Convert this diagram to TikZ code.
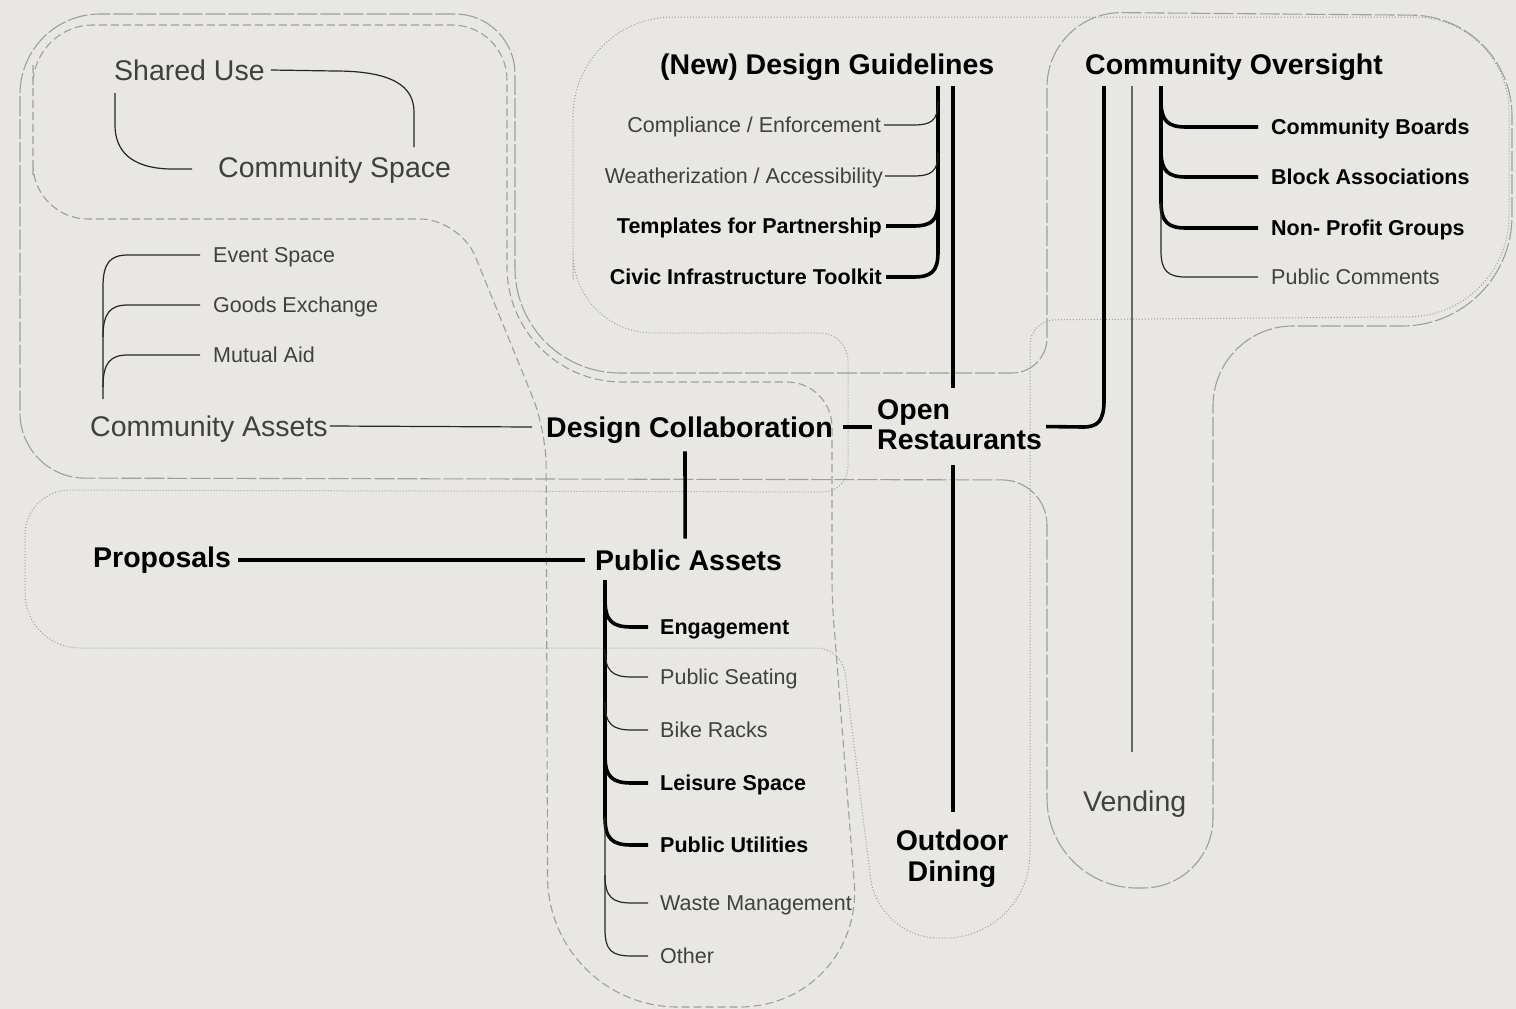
\documentclass[tikz,border=0pt]{standalone}
\usepackage{fontspec}
\setmainfont{Liberation Sans}
\usetikzlibrary{positioning}

\definecolor{paper}{RGB}{232,231,227}
\definecolor{inkgrey}{RGB}{64,64,64}
\definecolor{zonegrey}{RGB}{158,158,158}
\definecolor{stemgrey}{RGB}{105,105,105}

\tikzset{
  big/.style={font=\fontsize{28.5}{30.5}\selectfont, text=inkgrey, inner sep=0pt, text height=20.4pt, text depth=0pt},
  head/.style={font=\fontsize{28.5}{30.5}\selectfont\bfseries, text=black, inner sep=0pt, text height=20.4pt, text depth=0pt},
  headml/.style={font=\fontsize{28.5}{30.5}\selectfont\bfseries, text=black, inner sep=0pt},
  leaf/.style={font=\fontsize{21.5}{24}\selectfont, text=inkgrey, inner sep=0pt, text height=15.4pt, text depth=0pt},
  leafb/.style={leaf, font=\fontsize{21.5}{24}\selectfont\bfseries, text=black},
  thinlink/.style={line width=1.2pt, draw=black!85},
  thicklink/.style={line width=3.6pt, draw=black},
  zoneA/.style={draw=zonegrey, line width=1.1pt, dash pattern=on 20pt off 3pt},
  zoneB/.style={draw=zonegrey, line width=1.1pt, dash pattern=on 8pt off 4pt},
  zoneC/.style={draw=zonegrey, line width=1pt, dash pattern=on 1pt off 2pt}
}

\begin{document}
\begin{tikzpicture}[x=1pt, y=-1pt]
\fill[paper] (0,0) rectangle (1516,1009);
\useasboundingbox (0,0) rectangle (1516,1009);

% zones
\draw[zoneA] (20,250) [rounded corners=80pt] -- (20,14) [rounded corners=60pt] -- (515,14)
  [rounded corners=105pt] -- (515,373) [rounded corners=35pt] -- (1047,373)
  [rounded corners=75pt] -- (1047,12) [rounded corners=100pt] -- (1512,16)
  [rounded corners=110pt] -- (1512,326) [rounded corners=80pt] -- (1213,326)
  [rounded corners=70pt] -- (1213,888) [rounded corners=90pt] -- (1047,888)
  [rounded corners=45pt] -- (1047,480) [rounded corners=65pt] -- (20,478) -- cycle;

\draw[zoneB] (33,120) [rounded corners=60pt] -- (33,25) [rounded corners=55pt] -- (507,25)
  [rounded corners=115pt] -- (507,382) [rounded corners=45pt] -- (832,382)
  [rounded corners=20pt] -- (832,600) [rounded corners=125pt] -- (864,1007)
  [rounded corners=130pt] -- (548,1007) [rounded corners=35pt] -- (546,430)
  [rounded corners=40pt] -- (460,219) [rounded corners=55pt] -- (33,219) -- cycle;

\draw[zoneC] (573,200) [rounded corners=100pt] -- (573,17) [rounded corners=95pt] -- (1509,17)
  [rounded corners=100pt] -- (1509,316) [rounded corners=25pt] -- (1030,320)
  [rounded corners=85pt] -- (1030,938) [rounded corners=60pt] -- (878,938)
  [rounded corners=25pt] -- (842,648) [rounded corners=55pt] -- (25,648)
  [rounded corners=45pt] -- (25,490) [rounded corners=25pt] -- (848,492)
  [rounded corners=28pt] -- (848,333) [rounded corners=80pt] -- (573,333) -- cycle;

% labels
\node[big, anchor=west] (su) at (114,70) {Shared Use};
\node[big, anchor=west] (cs) at (218,167) {Community Space};
\node[leaf, anchor=west] (es) at (213,255) {Event Space};
\node[leaf, anchor=west] (ge) at (213,305) {Goods Exchange};
\node[leaf, anchor=west] (ma) at (213,355) {Mutual Aid};
\node[big, anchor=west] (ca) at (90,426) {Community Assets};
\node[head, anchor=west] (dc) at (546,427) {Design Collaboration};
\node[headml, align=left, anchor=north west] (open) at (877,399) {Open\\Restaurants};
\node[head, anchor=west] (prop) at (93,557) {Proposals};
\node[head, anchor=west] (pa) at (595,560) {Public Assets};
\node[leafb, anchor=west] (eng) at (660,627) {Engagement};
\node[leaf, anchor=west] (seat) at (660,677) {Public Seating};
\node[leaf, anchor=west] (bike) at (660,730) {Bike Racks};
\node[leafb, anchor=west] (leis) at (660,783) {Leisure Space};
\node[leafb, anchor=west] (util) at (660,845) {Public Utilities};
\node[leaf, anchor=west] (waste) at (660,903) {Waste Management};
\node[leaf, anchor=west] (other) at (660,956) {Other};
\node[headml, align=center, anchor=north] (dine) at (952,830) {Outdoor\\Dining};
\node[big, anchor=west] (vend) at (1083,801) {Vending};
\node[head, anchor=west] (dg) at (660,64) {(New) Design Guidelines};
\node[leaf, anchor=east] (comp) at (881,125) {Compliance / Enforcement};
\node[leaf, anchor=east] (weat) at (883,176) {Weatherization / Accessibility};
\node[leafb, anchor=east] (tmpl) at (882,226) {Templates for Partnership};
\node[leafb, anchor=east] (civic) at (882,277) {Civic Infrastructure Toolkit};
\node[head, anchor=west] (co) at (1085,64) {Community Oversight};
\node[leafb, anchor=west] (cb) at (1271,127) {Community Boards};
\node[leafb, anchor=west] (ba) at (1271,177) {Block Associations};
\node[leafb, anchor=west] (npg) at (1271,228) {Non- Profit Groups};
\node[leaf, anchor=west] (pc) at (1271,277) {Public Comments};

% shared use loop
\draw[thinlink] ([xshift=6pt]su.east) -- (335,71) .. controls (392,71) and (414,86) .. (414,112) -- (414,147);
\draw[thinlink] ([shift={(1pt,-23pt)}]su.west) -- (115,125) .. controls (115,150) and (130,168) .. (170,169) -- (192,169);

% community assets
\draw[thinlink] (103,399) -- (103,287) .. controls (103,263) and (110,255) .. (128,255) -- ([xshift=-13pt]es.west);
\draw[thinlink] (103,337) .. controls (103,313) and (110,305) .. (128,305) -- ([xshift=-13pt]ge.west);
\draw[thinlink] (103,387) .. controls (103,363) and (110,355) .. (128,355) -- ([xshift=-13pt]ma.west);
\draw[thinlink] ([xshift=2pt]ca.east) -- ([xshift=-14pt]dc.west);

% design collaboration
\draw[thicklink] ([xshift=10pt]dc.east) -- ++(29,0);
\draw[thicklink] ([shift={(-4.5pt,-14pt)}]dc.south) -- ([shift={(-3.5pt,11pt)}]pa.north);
\draw[thicklink] (prop.east) ++(7,3) -- ([xshift=-10pt]pa.west);

% public assets
\draw[thicklink] (605,580) -- (605,817) .. controls (605,839) and (612,845) .. (632,845) -- ([xshift=-12pt]util.west);
\draw[thinlink] (605,817) -- (605,929) .. controls (605,951) and (612,956) .. (632,956) -- ([xshift=-12pt]other.west);
\draw[thicklink] (605,599) .. controls (605,621) and (612,627) .. (632,627) -- ([xshift=-12pt]eng.west);
\draw[thinlink] (605,649) .. controls (605,671) and (612,677) .. (632,677) -- ([xshift=-12pt]seat.west);
\draw[thinlink] (605,702) .. controls (605,724) and (612,730) .. (632,730) -- ([xshift=-12pt]bike.west);
\draw[thicklink] (605,755) .. controls (605,777) and (612,783) .. (632,783) -- ([xshift=-12pt]leis.west);
\draw[thinlink] (605,875) .. controls (605,897) and (612,903) .. (632,903) -- ([xshift=-12pt]waste.west);

% open restaurants
\draw[thicklink] (953,388) -- (953,86);
\draw[thicklink] (953,465) -- (953,812);

% design guidelines
\draw[thicklink] (938,86) -- (938,252) .. controls (938,272) and (931,277) .. (913,277) -- ([xshift=4pt]civic.east);
\draw[thinlink] (938,102) .. controls (938,121) and (931,125) .. (913,125) -- ([xshift=3pt]comp.east);
\draw[thinlink] (938,153) .. controls (938,172) and (931,176) .. (913,176) -- ([xshift=2pt]weat.east);
\draw[thicklink] (938,202) .. controls (938,221) and (931,226) .. (913,226) -- ([xshift=4pt]tmpl.east);

% community oversight
\draw[thicklink] ([shift={(4pt,-2pt)}]open.east) -- (1083,427) .. controls (1098,427) and (1104,421) .. (1104,400) -- (1104,86);
\draw[line width=1.6pt, draw=stemgrey] (1132,86) -- (1132,752);
\draw[thicklink] (1161,86) -- (1161,202) .. controls (1161,222) and (1168,228) .. (1186,228) -- ([xshift=-13pt]npg.west);
\draw[thinlink] (1161,202) -- (1161,251) .. controls (1161,271) and (1168,277) .. (1186,277) -- ([xshift=-13pt]pc.west);
\draw[thicklink] (1161,101) .. controls (1161,121) and (1168,127) .. (1186,127) -- ([xshift=-13pt]cb.west);
\draw[thicklink] (1161,151) .. controls (1161,171) and (1168,177) .. (1186,177) -- ([xshift=-13pt]ba.west);
\end{tikzpicture}
\end{document}
